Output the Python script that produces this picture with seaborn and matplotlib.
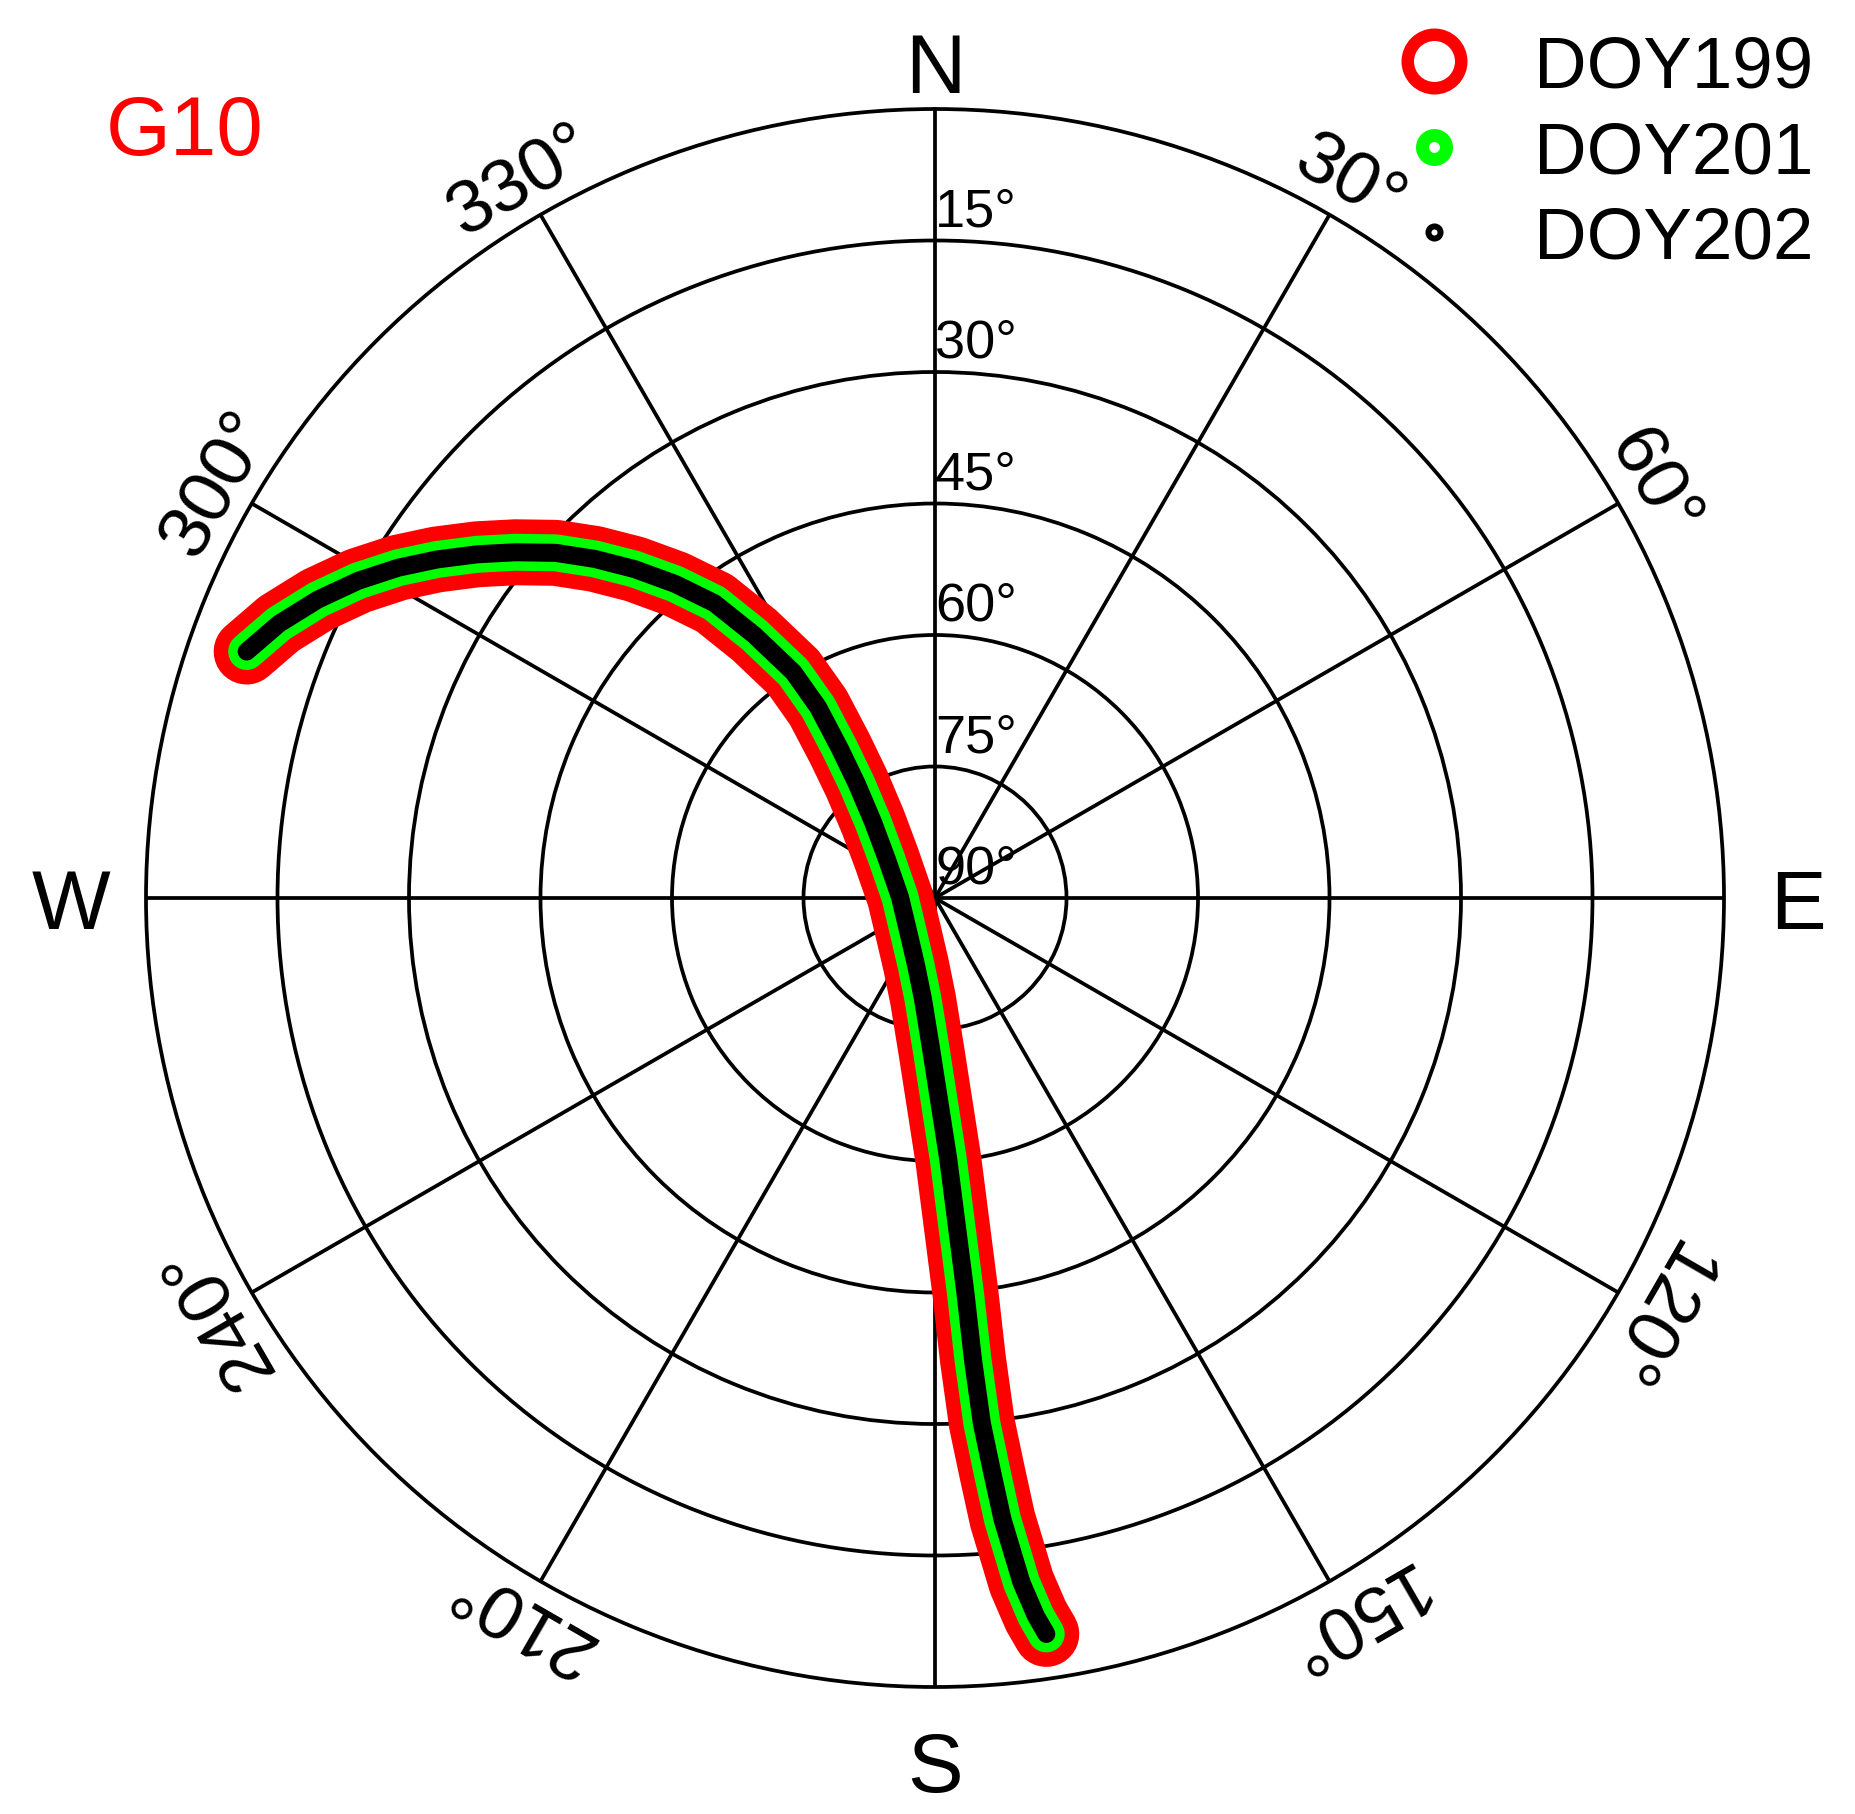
import numpy as np
import pandas as pd
import matplotlib
matplotlib.use("Agg")
import matplotlib.pyplot as plt
from matplotlib.lines import Line2D
from matplotlib.transforms import offset_copy
import seaborn as sns

# ---------------- data ----------------
satellite = "G10"
days = ["DOY199", "DOY201", "DOY202"]
day_colors = ["#ff0000", "#00ff00", "#000000"]

# azimuth (deg, clockwise from north) and elevation (deg) of the G10 pass
azimuth = [289.7, 292.7, 295.8, 298.8, 301.6, 304.2, 306.9, 309.5, 312.3, 314.9,
           317.6, 320.4, 323.2, 325.5, 327.9, 328.5, 327.5, 325.6, 320.8, 309.1,
           271.6, 215.8, 195.6, 186.8, 181.5, 178.9, 177.1, 176.2, 175.6, 175.3,
           174.9, 174.3, 173.8, 173.3, 172.8, 172.0, 171.4]
elevation = [6.6, 8.9, 11.8, 14.9, 18.1, 21.3, 24.7, 28.0, 31.5, 35.2,
             39.2, 43.5, 48.0, 53.6, 59.6, 64.5, 69.8, 74.2, 78.8, 82.9,
             86.0, 84.9, 82.0, 78.4, 72.8, 67.1, 60.2, 52.6, 44.9, 37.2,
             29.8, 24.0, 18.7, 15.2, 11.3, 7.3, 5.1]

azimuth_ticks = [0, 30, 60, 90, 120, 150, 180, 210, 240, 270, 300, 330]
azimuth_labels = ["N", "30°", "60°", "E", "120°", "150°", "S", "210°", "240°", "W", "300°", "330°"]
elevation_rings = [15, 30, 45, 60, 75, 90]
elevation_labels = ["15°", "30°", "45°", "60°", "75°", "90°"]

# ---------------- style ----------------
sns.set_theme(style="white")
plt.rcParams["font.family"] = ["Liberation Sans", "DejaVu Sans"]
plt.rcParams["text.color"] = "black"

W, H, DPI = 1855, 1815, 100
fig = plt.figure(figsize=(W / DPI, H / DPI), dpi=DPI)
fig.patch.set_facecolor("white")

cx, cy, R = 935, 899, 789
ax = fig.add_axes([(cx - R) / W, (H - cy - R) / H, 2 * R / W, 2 * R / H], projection="polar")
ax.set_theta_zero_location("N")
ax.set_theta_direction(-1)
ax.set_facecolor("white")

grid_lw = 2.7
ax.set_xticks(np.deg2rad(azimuth_ticks))
ax.set_xticklabels([])
ax.set_yticks([90 - e for e in elevation_rings[:-1]])
ax.set_yticklabels([])
ax.tick_params(length=0)
ax.grid(True, color="black", linewidth=grid_lw, linestyle="-")
ax.spines["polar"].set_linewidth(grid_lw)
ax.spines["polar"].set_color("black")

# ---------------- track ----------------
line_widths = [47.5, 26.6, 13.0]
df = pd.DataFrame({
    "theta": np.deg2rad(azimuth),
    "zenith": 90 - np.array(elevation),
})
for day, col, lw in zip(days, day_colors, line_widths):
    sns.lineplot(data=df, x="theta", y="zenith", ax=ax, sort=False, estimator=None,
                 color=col, linewidth=lw, solid_capstyle="round",
                 solid_joinstyle="round", zorder=5)

ax.set_xlabel("")
ax.set_ylabel("")
ax.set_ylim(0, 90)
if ax.get_legend() is not None:
    ax.get_legend().remove()

# ---------------- labels ----------------
card_tr = offset_copy(ax.transData, fig=fig, x=0, y=-8, units="dots")
lab_r = {0: 95.4, 90: 98.4, 180: 98.4, 270: 98.5}
for az, lab in zip(azimuth_ticks, azimuth_labels):
    th = np.deg2rad(az)
    if az % 90 == 0:
        ax.text(th, lab_r[az], lab, fontsize=60, ha="center", va="center",
                transform=card_tr, clip_on=False)
    else:
        ax.text(th, 94.6, lab, fontsize=54, ha="center", va="center",
                rotation=-az, rotation_mode="anchor", clip_on=False)

tr = offset_copy(ax.transData, fig=fig, x=0, y=15, units="dots")
for e, lab in zip(elevation_rings, elevation_labels):
    ax.text(0, 90 - e, lab, fontsize=39, ha="left", va="baseline",
            transform=tr, zorder=6)

fig.text(185 / W, 1 - 133 / H, satellite, color="red", fontsize=60,
         ha="center", va="center")

# ---------------- legend ----------------
handles = [
    Line2D([], [], ls="none", marker="o", mfc="none", mec=day_colors[0], ms=38.5, mew=9.0),
    Line2D([], [], ls="none", marker="o", mfc="none", mec=day_colors[1], ms=17.2, mew=9.4),
    Line2D([], [], ls="none", marker="o", mfc="none", mec=day_colors[2], ms=8.7, mew=4.3),
]
leg = fig.legend(handles, days, loc="upper left",
                 bbox_to_anchor=(1397.5 / W, 1 - 36 / H),
                 fontsize=52.5, frameon=False, handlelength=1.0, handletextpad=0.87,
                 labelspacing=0.25, borderpad=0, borderaxespad=0, numpoints=1)
for t in leg.get_texts():
    t.set_color("black")

fig.savefig("out.png", dpi=DPI, facecolor="white")
